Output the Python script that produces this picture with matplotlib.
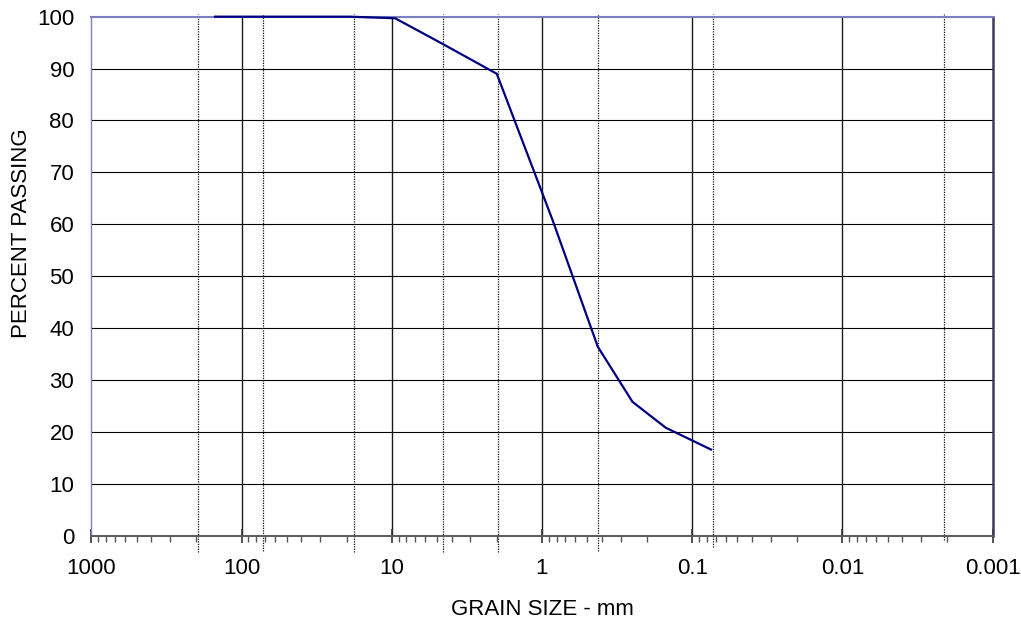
import matplotlib
matplotlib.use("Agg")
import matplotlib.pyplot as plt
import matplotlib.transforms as mtransforms
from matplotlib.ticker import FixedLocator, LogLocator, NullFormatter

plt.rcParams['font.family'] = ['Liberation Sans', 'DejaVu Sans']

# ---- data ----
grain_size_mm = [150, 19, 9.5, 4.75, 2.0, 0.85, 0.425, 0.25, 0.15, 0.075]
percent_passing = [100, 100, 99.7, 95, 89, 60.8, 36.4, 25.8, 20.8, 16.6]

# soil classification boundaries (dotted lines), mm
boundaries_mm = [196, 72, 17.8, 4.55, 1.95, 0.425, 0.073, 0.0021]

x_ticks = [1000, 100, 10, 1, 0.1, 0.01, 0.001]
x_tick_labels = ["1000", "100", "10", "1", "0.1", "0.01", "0.001"]
y_ticks = list(range(0, 101, 10))
y_tick_labels = [str(v) for v in y_ticks]

x_label = "GRAIN SIZE - mm"
y_label = "PERCENT PASSING"

# ---- figure ----
fig = plt.figure(figsize=(10.21, 6.21), dpi=100)
ax = fig.add_axes([0.08942, 0.13736, 0.88286, 0.83575])

ax.set_xscale('log')
ax.set_xlim(1000, 0.001)
ax.set_ylim(0, 100)

# grid
for y in y_ticks[1:-1]:
    ax.axhline(y, color='black', lw=0.8, zorder=1)
for x in x_ticks[1:-1]:
    ax.axvline(x, color='#1a1a1a', lw=1.0, zorder=1)

# dotted boundary lines (extend slightly outside the plot)
trans = mtransforms.blended_transform_factory(ax.transData, ax.transAxes)
bottom_ext = [-0.031, -0.029, -0.031, -0.031, -0.031, -0.029, -0.021, -0.008]
for b, be in zip(boundaries_mm, bottom_ext):
    ax.plot([b, b], [be, 1.005], transform=trans, color='#111111', lw=0.9,
            linestyle=(0, (1, 1)), clip_on=False, zorder=1.5)

# data curve
ax.plot(grain_size_mm, percent_passing, color='#000080', lw=1.6,
        zorder=3, clip_on=False, solid_joinstyle='miter')

# ticks
ax.xaxis.set_major_locator(FixedLocator(x_ticks))
ax.set_xticklabels(x_tick_labels)
ax.xaxis.set_minor_locator(LogLocator(base=10, subs=range(2, 10), numticks=20))
ax.xaxis.set_minor_formatter(NullFormatter())
ax.tick_params(axis='x', which='major', direction='inout', length=10,
               width=1.2, color='#333333', pad=11.3, labelsize=16)
ax.tick_params(axis='x', which='minor', direction='out', length=4.3,
               width=1.0, color='#555555')
ax.set_yticks(y_ticks)
ax.set_yticklabels(y_tick_labels)
ax.tick_params(axis='y', which='both', length=0, pad=12.3, labelsize=16)

# spines
ax.spines['top'].set_color('#7b7fc0')
ax.spines['top'].set_linewidth(1.5)
ax.spines['left'].set_color('#7b7fc0')
ax.spines['left'].set_linewidth(1.0)
ax.spines['right'].set_color('#3b3b5b')
ax.spines['right'].set_linewidth(1.8)
ax.spines['bottom'].set_color('#5a5a5a')
ax.spines['bottom'].set_linewidth(1.4)

# labels
ax.set_xlabel(x_label, fontsize=16, va='baseline')
ax.xaxis.set_label_coords(0.5, -0.1528)
ax.set_ylabel(y_label, fontsize=16, va='center')
ax.yaxis.set_label_coords(-0.0769, 0.583)

fig.savefig('out.png', dpi=100)
